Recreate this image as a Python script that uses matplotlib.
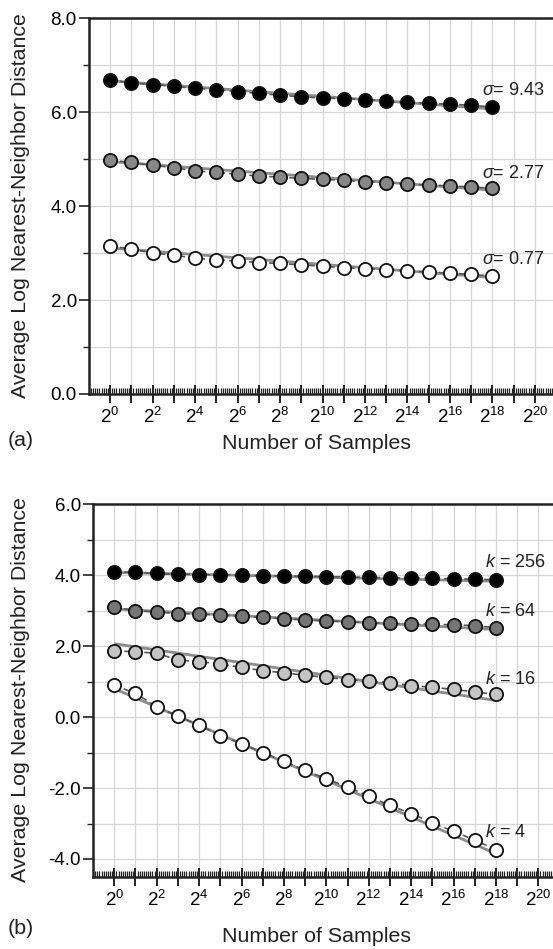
import matplotlib
matplotlib.use("Agg")
import matplotlib.pyplot as plt
import matplotlib.ticker as mticker
import numpy as np

plt.rcParams['font.family'] = ['Liberation Sans', 'DejaVu Sans']
plt.rcParams['mathtext.fontset'] = 'custom'
plt.rcParams['mathtext.rm'] = 'Liberation Sans'
plt.rcParams['mathtext.it'] = 'Liberation Sans:italic'
plt.rcParams['axes.unicode_minus'] = False

# ---------------- data ----------------
samples = [1, 2, 4, 8, 16, 32, 64, 128, 256, 512, 1024, 2048, 4096, 8192,
           16384, 32768, 65536, 131072, 262144]

# panel (a): sigma series
sigma_labels = ["9.43", "2.77", "0.77"]
sigma_943 = [6.69, 6.62, 6.59, 6.55, 6.51, 6.48, 6.44, 6.40, 6.36, 6.33,
             6.30, 6.29, 6.27, 6.24, 6.21, 6.19, 6.17, 6.15, 6.11]
sigma_277 = [4.98, 4.93, 4.87, 4.82, 4.75, 4.72, 4.68, 4.64, 4.62, 4.59,
             4.57, 4.55, 4.52, 4.50, 4.47, 4.45, 4.43, 4.41, 4.38]
sigma_077 = [3.15, 3.09, 3.00, 2.96, 2.89, 2.86, 2.83, 2.80, 2.78, 2.75,
             2.72, 2.69, 2.67, 2.65, 2.62, 2.60, 2.57, 2.55, 2.51]
fit_a = [(6.67, 6.07), (4.95, 4.34), (3.11, 2.48)]

# panel (b): k series
k_labels = ["256", "64", "16", "4"]
k_256 = [4.10, 4.08, 4.05, 4.03, 4.02, 4.01, 4.00, 3.99, 3.98, 3.97,
         3.96, 3.95, 3.94, 3.93, 3.92, 3.91, 3.90, 3.89, 3.87]
k_64 = [3.10, 3.00, 2.96, 2.92, 2.90, 2.88, 2.84, 2.81, 2.77, 2.74,
        2.71, 2.69, 2.66, 2.64, 2.63, 2.62, 2.60, 2.58, 2.52]
k_16 = [1.87, 1.84, 1.80, 1.61, 1.56, 1.50, 1.40, 1.31, 1.25, 1.18,
        1.12, 1.06, 1.01, 0.97, 0.89, 0.84, 0.78, 0.71, 0.64]
k_4 = [0.90, 0.67, 0.29, 0.03, -0.23, -0.52, -0.75, -1.00, -1.25, -1.50,
       -1.74, -1.97, -2.23, -2.49, -2.72, -2.98, -3.22, -3.47, -3.74]
fit_b = [(4.08, 3.83), (3.05, 2.47), (2.07, 0.47), (0.80, -3.85)]

# ---------------- style ----------------
W, H = 553, 949
fig = plt.figure(figsize=(W / 100, H / 100), dpi=100)

axA = fig.add_axes([89.3 / W, 1 - 394 / H, 1 - 89.3 / W, (394 - 18.3) / H])
axB = fig.add_axes([93.3 / W, 1 - 876.7 / H, 1 - 93.3 / W, (876.7 - 504.3) / H])

SPINE = '#222222'
GRID = '#d6d6d6'


def style_axes(ax, ylim, xlim):
    ax.set_xscale('log', base=2)
    ax.set_xlim(*xlim)
    ax.set_ylim(*ylim)
    for s in ['top', 'left', 'bottom']:
        ax.spines[s].set_linewidth(1.8)
        ax.spines[s].set_color(SPINE)
    ax.spines['right'].set_visible(False)
    major = [2.0 ** n for n in range(0, 22)]
    minor = [2.0 ** (n + j / 10) for n in range(-1, 22) for j in range(1, 10)]
    ax.xaxis.set_major_locator(mticker.FixedLocator(major))
    ax.xaxis.set_minor_locator(mticker.FixedLocator(minor))

    def fmt(v, pos):
        n = int(round(np.log2(v)))
        return r'$2^{%d}$' % n if n % 2 == 0 else ''
    ax.xaxis.set_major_formatter(mticker.FuncFormatter(fmt))
    ax.xaxis.set_minor_formatter(mticker.NullFormatter())
    ax.yaxis.set_major_locator(mticker.MultipleLocator(2))
    ax.yaxis.set_minor_locator(mticker.MultipleLocator(1))
    ax.yaxis.set_major_formatter(mticker.FormatStrFormatter('%.1f'))
    ax.tick_params(axis='x', which='major', direction='inout', length=13,
                   width=1.4, color=SPINE, labelsize=13.5, pad=3)
    ax.tick_params(axis='x', which='minor', direction='in', length=4,
                   width=0.9, color=SPINE)
    ax.tick_params(axis='y', which='major', direction='out', length=7,
                   width=1.2, color=SPINE, labelsize=13.5, pad=2)
    ax.tick_params(axis='y', which='minor', direction='out', length=4,
                   width=1.0, color=SPINE)
    ax.xaxis.grid(True, which='major', color=GRID, lw=0.9)
    ax.yaxis.grid(True, which='both', color=GRID, lw=0.9)
    ax.set_axisbelow(True)


def draw_series(ax, ys, fit, face):
    ax.plot([samples[0], samples[-1]], list(fit), color='#8c8c8c', lw=2.0,
            solid_capstyle='butt', zorder=2)
    ax.plot(samples, ys, color='#555555', lw=1.2, ls=(0, (3.5, 2.5)),
            marker='o', ms=9.5, mfc=face, mec='#111111', mew=1.3, zorder=3,
            clip_on=False)


style_axes(axA, (0, 8), (2 ** -0.98, 2 ** 20.85))
style_axes(axB, (-4.5, 6), (2 ** -0.99, 2 ** 20.69))

for ys, fit, face in zip([sigma_943, sigma_277, sigma_077], fit_a,
                         ['#000000', '#878787', '#ffffff']):
    draw_series(axA, ys, fit, face)

for ys, fit, face in zip([k_256, k_64, k_16, k_4], fit_b,
                         ['#000000', '#767676', '#c4c4c4', '#ffffff']):
    draw_series(axB, ys, fit, face)

# series labels
lab_x = 2 ** 17.5
for lab, yv in zip(sigma_labels, [6.36, 4.61, 2.76]):
    axA.text(lab_x, yv, r'$\sigma$= ' + lab, fontsize=13, color='#222222',
             ha='left', va='baseline')
for lab, yv in zip(k_labels, [4.23, 2.85, 0.93, -3.37]):
    axB.text(lab_x, yv, r'$k$ = ' + lab, fontsize=13, color='#222222',
             ha='left', va='baseline')

# axis labels and panel letters
ylab = 'Average Log Nearest-Neighbor Distance'
fig.text(21 / W, 1 - 206 / H, ylab, rotation=90, ha='center', va='center',
         fontsize=15.4, color='#222222')
fig.text(21 / W, 1 - 690 / H, ylab, rotation=90, ha='center', va='center',
         fontsize=15.4, color='#222222')
fig.text(317 / W, 1 - 443 / H, 'Number of Samples', ha='center', va='center',
         fontsize=15.4, color='#222222')
fig.text(317 / W, 1 - 937 / H, 'Number of Samples', ha='center', va='center',
         fontsize=15.4, color='#222222')
fig.text(8 / W, 1 - 441 / H, '(a)', ha='left', va='center', fontsize=15.4,
         color='#222222')
fig.text(8 / W, 1 - 929 / H, '(b)', ha='left', va='center', fontsize=15.4,
         color='#222222')

fig.savefig('out.png', dpi=100)
